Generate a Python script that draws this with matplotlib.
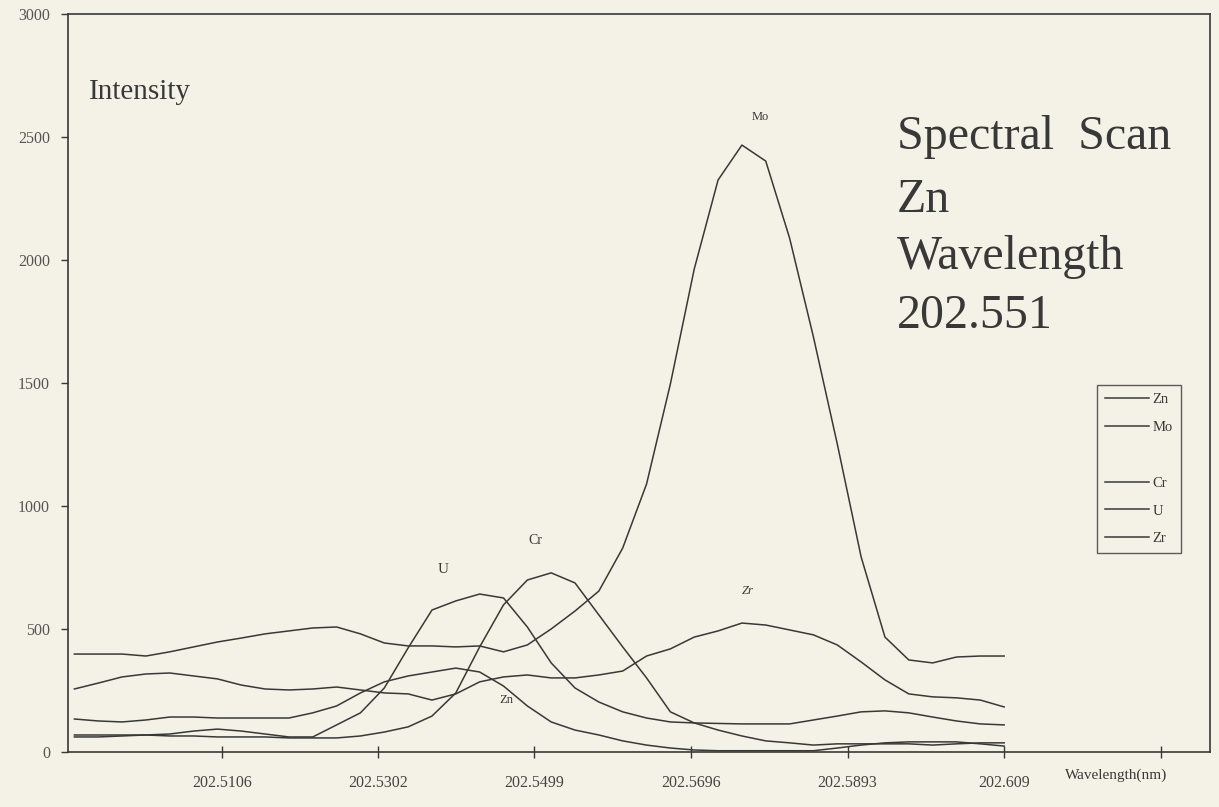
import matplotlib
matplotlib.use("Agg")
import matplotlib.pyplot as plt
from matplotlib.lines import Line2D

plt.rcParams['font.family'] = ['Liberation Serif', 'DejaVu Serif']

# wavelength grid of the scan (nm)
wavelength = [202.492, 202.495, 202.498, 202.501, 202.504, 202.507, 202.510, 202.513,
              202.516, 202.519, 202.522, 202.525, 202.528, 202.531, 202.534, 202.537,
              202.540, 202.543, 202.546, 202.549, 202.552, 202.555, 202.558, 202.561,
              202.564, 202.567, 202.570, 202.573, 202.576, 202.579, 202.582, 202.585,
              202.588, 202.591, 202.594, 202.597, 202.600, 202.603, 202.606, 202.609]

# intensities
zn = [134, 126, 122, 130, 142, 142, 138, 138, 138, 138, 159, 187, 240, 285, 309, 325,
      341, 325, 268, 187, 122, 89, 69, 45, 28, 16, 8, 5, 5, 5, 5, 5,
      16, 28, 37, 41, 41, 41, 33, 24]
mo = [398, 398, 398, 390, 407, 427, 447, 463, 480, 492, 504, 508, 480, 443, 431, 431,
      427, 431, 407, 435, 500, 573, 654, 829, 1089, 1496, 1963, 2325, 2467, 2402, 2089, 1687,
      1252, 793, 467, 374, 362, 386, 390, 390]
cr = [61, 61, 65, 69, 65, 65, 61, 61, 61, 57, 57, 57, 65, 81, 102, 146,
      240, 427, 598, 699, 728, 687, 557, 427, 301, 163, 118, 89, 65, 45, 37, 28,
      33, 33, 33, 33, 28, 33, 37, 37]
u = [69, 69, 69, 69, 73, 85, 93, 85, 73, 61, 61, 110, 159, 260, 423, 577,
     614, 642, 626, 508, 362, 260, 203, 163, 138, 122, 118, 116, 114, 114, 114, 130,
     146, 163, 167, 159, 142, 126, 114, 110]
zr = [256, 280, 305, 317, 321, 309, 297, 272, 256, 252, 256, 264, 252, 240, 236, 211,
      236, 285, 305, 313, 301, 301, 313, 329, 390, 419, 467, 492, 524, 516, 496, 476,
      435, 366, 293, 236, 224, 220, 211, 183]

xticks = [202.5106, 202.5302, 202.5499, 202.5696, 202.5893, 202.609, 202.6287]
xticklabels = ['202.5106', '202.5302', '202.5499', '202.5696', '202.5893', '202.609', '']
yticks = [0, 500, 1000, 1500, 2000, 2500, 3000]

ink = '#383838'
paper = '#f4f2e6'

fig = plt.figure(figsize=(12.19, 8.07), dpi=100, facecolor=paper)
ax = fig.add_axes([0.0558, 0.0682, 0.9368, 0.9145], facecolor=paper)

for series in [zn, mo, cr, u, zr]:
    ax.plot(wavelength, series, color=ink, lw=1.1)

ax.set_xlim(202.4912, 202.6349)
ax.set_ylim(0, 3000)
ax.set_xticks(xticks)
ax.set_xticklabels(xticklabels)
ax.set_yticks(yticks)
ax.tick_params(axis='x', direction='inout', length=9, width=1, color=ink,
               labelsize=11.5, labelcolor='#444444', pad=12)
ax.tick_params(axis='y', direction='out', length=5, width=1, color=ink,
               labelsize=11.5, labelcolor='#555555', pad=8)
for sp in ax.spines.values():
    sp.set_color(ink)
    sp.set_linewidth(1.2)

# peak labels
ax.text(202.5783, 2581, 'Mo', fontsize=9, color=ink, ha='center', va='center')
ax.text(202.5384, 740, 'U', fontsize=11, color=ink, ha='center', va='center')
ax.text(202.5500, 858, 'Cr', fontsize=10, color=ink, ha='center', va='center')
ax.text(202.5768, 654, 'Zr', fontsize=9, color=ink, ha='center', va='center', style='italic')
ax.text(202.5464, 211, 'Zn', fontsize=9, color=ink, ha='center', va='center')

ax.text(0.018, 0.894, 'Intensity', transform=ax.transAxes, fontsize=21, color=ink,
        ha='left', va='center')
ax.text(0.918, -0.032, 'Wavelength(nm)', transform=ax.transAxes, fontsize=11, color=ink,
        ha='center', va='center')

title_lines = ['Spectral  Scan', 'Zn', 'Wavelength', '202.551']
title_y = [0.833, 0.748, 0.671, 0.591]
for txt, yy in zip(title_lines, title_y):
    ax.text(0.726, yy, txt, transform=ax.transAxes, fontsize=34.5, color=ink,
            ha='left', va='center')

# legend keeps an empty row between Mo and Cr, as on the scan
blank = Line2D([], [], color='none')
handles = [Line2D([], [], color=ink, lw=1.1) for _ in range(5)]
leg = ax.legend([handles[0], handles[1], blank, handles[2], handles[3], handles[4]],
                ['Zn', 'Mo', '', 'Cr', 'U', 'Zr'],
                loc='upper left', bbox_to_anchor=(0.901, 0.497), borderaxespad=0,
                fontsize=10.5, labelspacing=1.0, handlelength=3.0, handletextpad=0.25,
                borderpad=0.55, fancybox=False, frameon=True)
leg.get_frame().set_edgecolor(ink)
leg.get_frame().set_linewidth(1.0)
leg.get_frame().set_facecolor(paper)
for t in leg.get_texts():
    t.set_color(ink)

fig.savefig('out.png', dpi=100, facecolor=paper)
